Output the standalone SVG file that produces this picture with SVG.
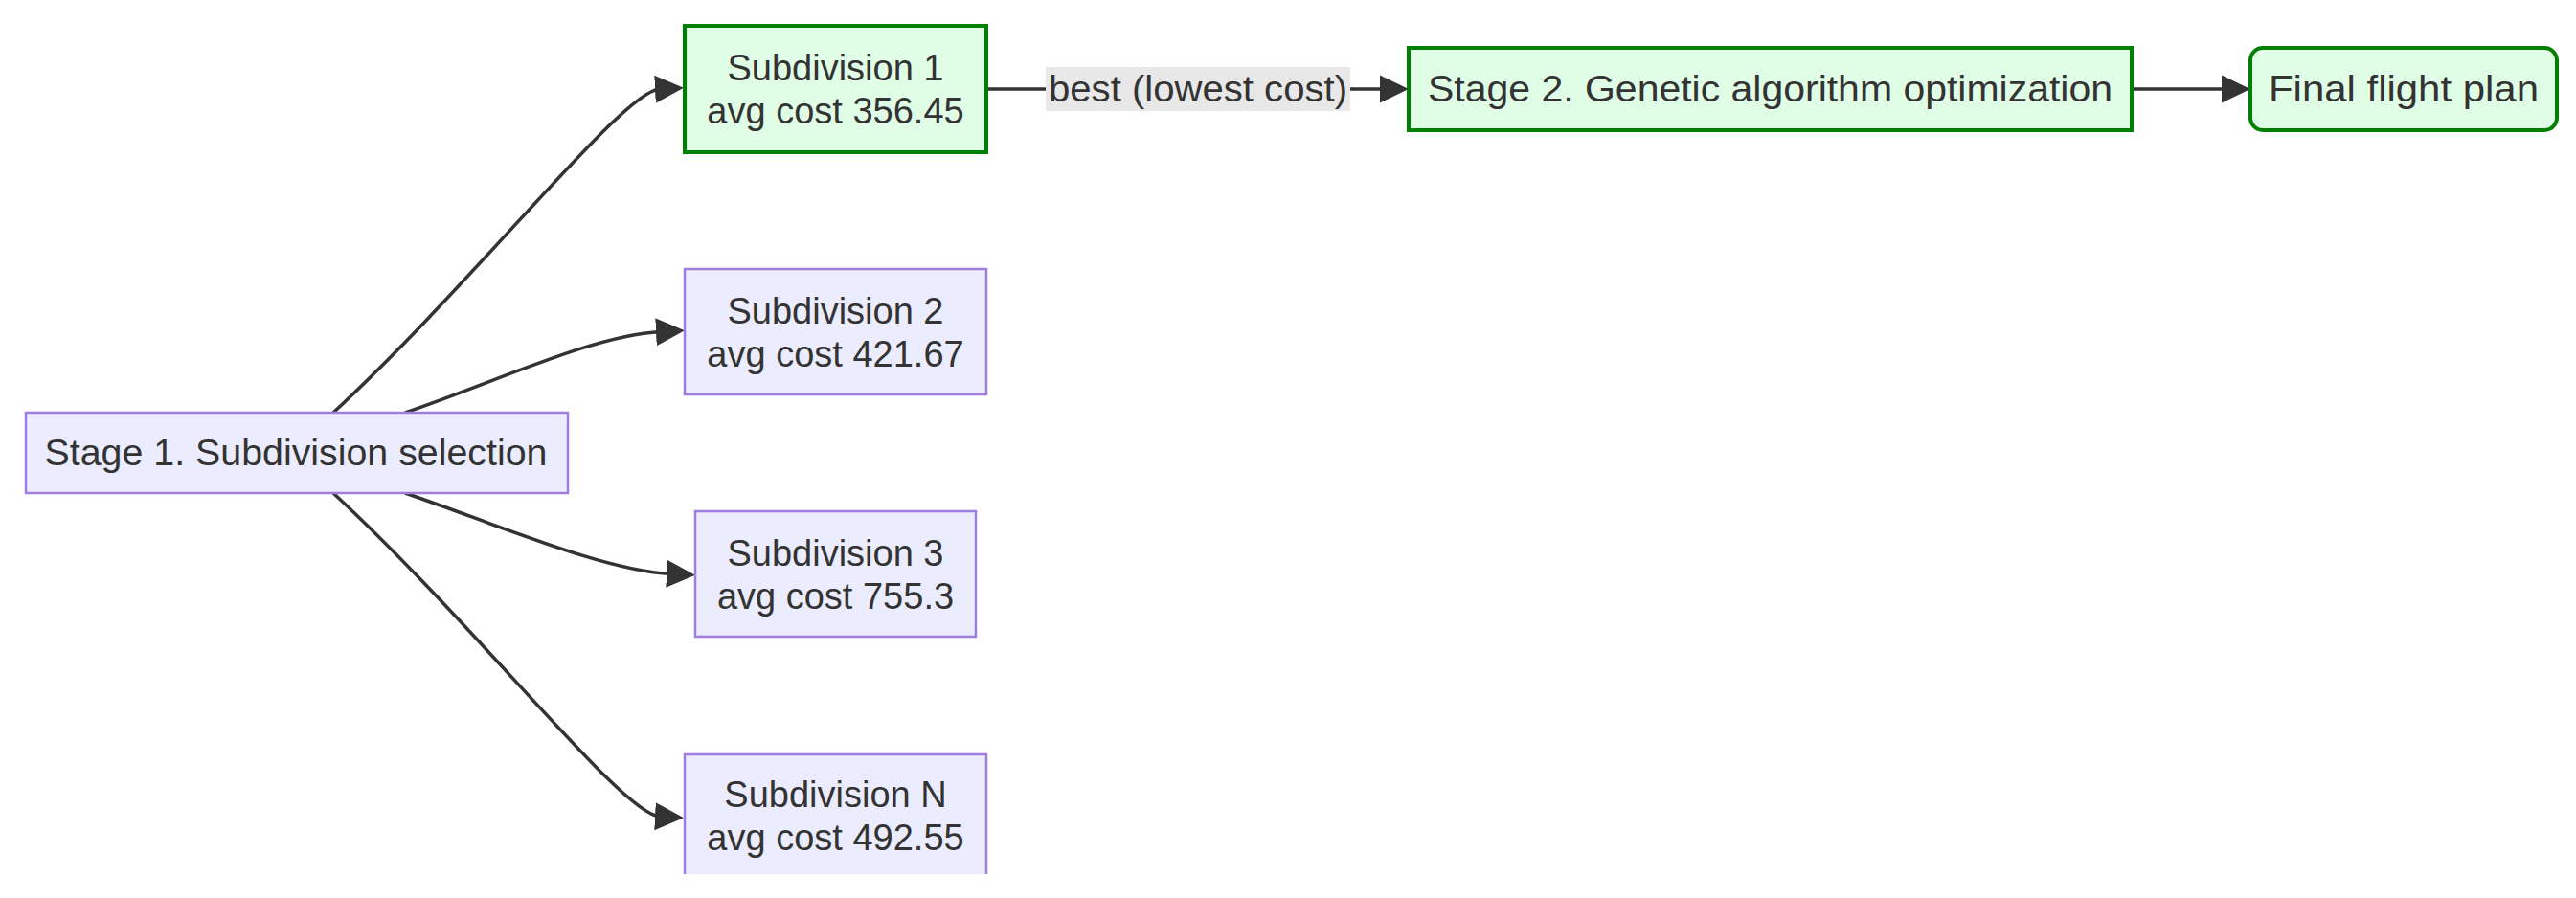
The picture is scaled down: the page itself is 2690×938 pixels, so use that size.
<svg xmlns="http://www.w3.org/2000/svg" width="2690" height="938" viewBox="0 0 2690 938">
<style>
.node rect{fill:#ECECFF;stroke:#A07EE0;stroke-width:2.5}
.node.green rect{fill:#E0FDE6;stroke:#008000;stroke-width:4}
text{font-family:"Liberation Sans",Arial,sans-serif;font-size:38px;fill:#333;text-anchor:middle}
.edge{fill:none;stroke:#333;stroke-width:3.5}
.lbl rect{fill:#E8E8E8;stroke:none}
</style>
<defs>
<marker id="arr" markerUnits="userSpaceOnUse" viewBox="0 0 30 30" markerWidth="30" markerHeight="30" refX="5" refY="15" orient="auto">
<path d="M0,0.5 L30,15 L0,29.5 z" fill="#333"/>
</marker>
<clipPath id="cut"><rect x="0" y="0" width="2690" height="913"/></clipPath>
</defs>
<rect width="2690" height="938" fill="#fff"/>
<g id="connectors">
<path class="edge" d="M348,431 C500,290 650,95 689,93" marker-end="url(#arr)"/>
<path class="edge" d="M423,431 C520,398 620,350 690,346.5" marker-end="url(#arr)"/>
<path class="edge" d="M423,515 C520,548 630,596 701,599.5" marker-end="url(#arr)"/>
<path class="edge" d="M348,515 C500,656 650,851 689,853" marker-end="url(#arr)"/>
<path class="edge" d="M1030,93 L1446,93" marker-end="url(#arr)"/>
<path class="edge" d="M2226,93 L2325,93" marker-end="url(#arr)"/>
<g class="lbl" id="label-best">
<rect x="1092" y="70" width="318" height="46"/>
<text x="1251" y="106" textLength="312" lengthAdjust="spacingAndGlyphs">best (lowest cost)</text>
</g>
</g>
<g id="stage1" class="node">
<rect x="27" y="431" width="566" height="84"/>
<text x="309" y="486" textLength="525" lengthAdjust="spacingAndGlyphs">Stage 1. Subdivision selection</text>
</g>
<g id="sub1" class="node green">
<rect x="715" y="27" width="315" height="132"/>
<text x="872.5" y="84">Subdivision 1</text>
<text x="872.5" y="129">avg cost 356.45</text>
</g>
<g id="sub2" class="node">
<rect x="715" y="281" width="315" height="131"/>
<text x="872.5" y="337.5">Subdivision 2</text>
<text x="872.5" y="382.5">avg cost 421.67</text>
</g>
<g id="sub3" class="node">
<rect x="726" y="534" width="293" height="131"/>
<text x="872.5" y="590.5">Subdivision 3</text>
<text x="872.5" y="635.5">avg cost 755.3</text>
</g>
<g id="subN" class="node" clip-path="url(#cut)">
<rect x="715" y="788" width="315" height="131"/>
<text x="872.5" y="843">Subdivision N</text>
<text x="872.5" y="888">avg cost 492.55</text>
</g>
<g id="stage2" class="node green">
<rect x="1471" y="50" width="755" height="86"/>
<text x="1848.5" y="106" textLength="715" lengthAdjust="spacingAndGlyphs">Stage 2. Genetic algorithm optimization</text>
</g>
<g id="final" class="node green">
<rect x="2350" y="50" width="320" height="86" rx="13" ry="13"/>
<text x="2510" y="106" textLength="282" lengthAdjust="spacingAndGlyphs">Final flight plan</text>
</g>
</svg>
